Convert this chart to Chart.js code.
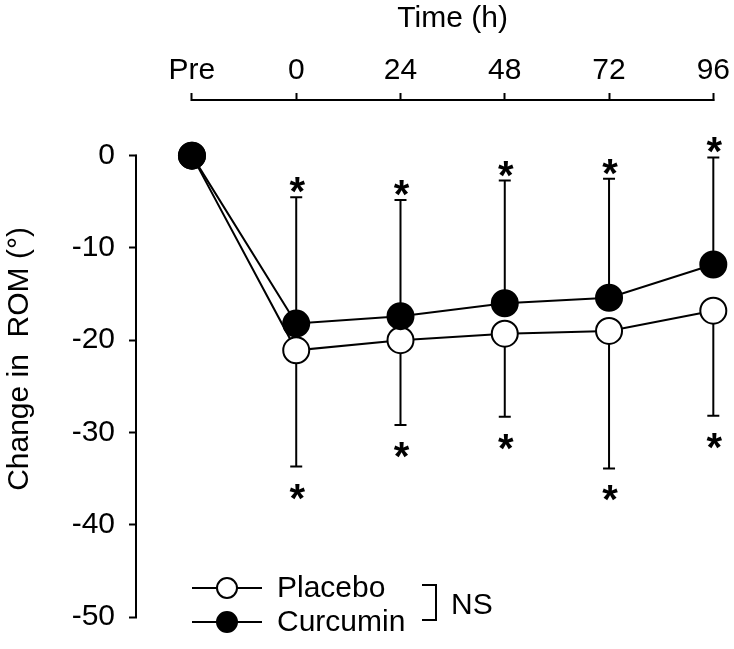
<!DOCTYPE html>
<html>
<head>
<meta charset="utf-8">
<script src="https://cdn.jsdelivr.net/npm/chart.js@4.4.1/dist/chart.umd.min.js"></script>
<style>
    html, body { margin: 0; padding: 0; background: #fff; }
    #wrap { width: 734px; height: 649px; }
</style>
</head>
<body>
<div id="wrap"><canvas id="romChart" width="734" height="649"></canvas></div>
<script>
/* ================= DATA ================= */
const timeLabels = ["Pre", "0", "24", "48", "72", "96"];
const timePos = [0, 1, 2, 3, 4, 5];
const yTicks = [0, -10, -20, -30, -40, -50];

const curcuminMean = [0, -18.2, -17.4, -16.0, -15.4, -11.8];
const curcuminSD = [0, 13.7, 12.6, 13.3, 12.9, 11.6];
const curcuminSig = [false, true, true, true, true, true];

const placeboMean = [0, -21.1, -20.0, -19.3, -19.0, -16.8];
const placeboSD = [0, 12.6, 9.2, 9.0, 14.9, 11.4];
const placeboSig = [false, true, true, true, true, true];

const FONT = "'Liberation Sans', Arial, Helvetica, sans-serif";
const FONT_SIZE = 30;
Chart.defaults.color = "#000";
Chart.defaults.font.family = FONT;

/* ================= HELPERS ================= */
function toPoints(values) {
    return timePos.map((x, i) => ({ x: x, y: values[i] }));
}

// error bars + asterisks, drawn under the markers
const errorBars = {
    id: "errorBars",
    beforeDatasetsDraw(chart) {
        const ctx = chart.ctx;
        const xs = chart.scales.x, ys = chart.scales.y;
        ctx.save();
        ctx.strokeStyle = "#000";
        ctx.lineWidth = 2;
        ctx.fillStyle = "#000";
        ctx.font = "bold 40px " + FONT;
        ctx.textAlign = "center";
        ctx.textBaseline = "alphabetic";

        const draw = (mean, sd, sig, dir, starGap) => {
            mean.forEach((m, i) => {
                if (!sd[i]) return;
                const x = xs.getPixelForValue(timePos[i]);
                const y0 = ys.getPixelForValue(m);
                const y1 = ys.getPixelForValue(m + dir * sd[i]);
                ctx.beginPath();
                ctx.moveTo(x, y0);
                ctx.lineTo(x, y1);
                ctx.moveTo(x - 6, y1);
                ctx.lineTo(x + 6, y1);
                ctx.stroke();
                if (sig[i]) {
                    // asterisk glyph centre sits ~23px above baseline at 40px
                    const cy = dir > 0 ? y1 - starGap : y1 + starGap;
                    ctx.fillText("*", x + 1, cy + 23);
                }
            });
        };
        draw(curcuminMean, curcuminSD, curcuminSig, 1, 15);
        draw(placeboMean, placeboSD, placeboSig, -1, 22);
        ctx.restore();
    }
};

// axis lines (only between first and last tick), top title, legend
const decorations = {
    id: "decorations",
    afterDraw(chart) {
        const ctx = chart.ctx;
        const xs = chart.scales.x, ys = chart.scales.y;
        const xa = xs.getPixelForValue(timePos[0]);
        const xb = xs.getPixelForValue(timePos[timePos.length - 1]);
        const yTop = chart.chartArea.top;
        const xLeft = chart.chartArea.left;

        ctx.save();
        ctx.strokeStyle = "#000";
        ctx.fillStyle = "#000";
        ctx.lineWidth = 2;

        ctx.beginPath();
        ctx.moveTo(xa - 1, yTop - 1);
        ctx.lineTo(xb + 1, yTop - 1);
        ctx.moveTo(xLeft - 1, ys.getPixelForValue(yTicks[0]) - 1);
        ctx.lineTo(xLeft - 1, ys.getPixelForValue(yTicks[yTicks.length - 1]) + 1);
        ctx.stroke();

        ctx.font = FONT_SIZE + "px " + FONT;
        ctx.textAlign = "center";
        ctx.textBaseline = "middle";
        ctx.fillText("Time (h)", (xa + xb) / 2, 19);

        /* ---- legend ---- */
        const rows = [
            { label: "Placebo", y: 588, fill: "#fff" },
            { label: "Curcumin", y: 622, fill: "#000" }
        ];
        rows.forEach(r => {
            ctx.beginPath();
            ctx.moveTo(192, r.y);
            ctx.lineTo(262, r.y);
            ctx.stroke();
            ctx.beginPath();
            ctx.arc(227, r.y, 10, 0, Math.PI * 2);
            ctx.fillStyle = r.fill;
            ctx.fill();
            ctx.stroke();
            ctx.fillStyle = "#000";
            ctx.textAlign = "left";
            ctx.fillText(r.label, 277, r.y + 1);
        });
        ctx.beginPath();
        ctx.moveTo(422, 585);
        ctx.lineTo(436, 585);
        ctx.lineTo(436, 620);
        ctx.lineTo(422, 620);
        ctx.stroke();
        ctx.fillText("NS", 451, 606);
        ctx.restore();
    }
};

/* ================= CHART ================= */
new Chart(document.getElementById("romChart"), {
    type: "line",
    data: {
        datasets: [
            {
                label: "Curcumin",
                data: toPoints(curcuminMean),
                borderColor: "#000",
                borderWidth: 2,
                pointRadius: 13,
                pointBorderWidth: 2,
                pointBackgroundColor: "#000",
                pointBorderColor: "#000",
                clip: false
            },
            {
                label: "Placebo",
                data: toPoints(placeboMean),
                borderColor: "#000",
                borderWidth: 2,
                pointRadius: 13,
                pointBorderWidth: 2,
                pointBackgroundColor: "#fff",
                pointBorderColor: "#000",
                clip: false
            }
        ]
    },
    options: {
        responsive: false,
        animation: false,
        devicePixelRatio: 1,
        layout: { padding: { left: 0, top: 0, right: 20, bottom: 19 } },
        plugins: {
            legend: { display: false },
            tooltip: { enabled: false }
        },
        scales: {
            x: {
                type: "linear",
                position: "top",
                min: -0.527,
                max: 5,
                afterBuildTicks: s => { s.ticks = timePos.map(v => ({ value: v })); },
                afterFit: s => { s.height = 101; },
                border: { display: false },
                grid: {
                    drawOnChartArea: false,
                    drawTicks: true,
                    tickLength: 8,
                    tickWidth: 2,
                    color: "#000"
                },
                ticks: {
                    font: { size: FONT_SIZE },
                    padding: 4,
                    maxRotation: 0,
                    autoSkip: false,
                    callback: (v) => timeLabels[timePos.indexOf(v)]
                }
            },
            y: {
                type: "linear",
                min: -50,
                max: 5.92,
                afterBuildTicks: s => { s.ticks = yTicks.map(v => ({ value: v })); },
                afterFit: s => { s.width = 137; },
                border: { display: false },
                grid: {
                    drawOnChartArea: false,
                    drawTicks: true,
                    tickLength: 8,
                    tickWidth: 2,
                    color: "#000"
                },
                ticks: {
                    font: { size: FONT_SIZE },
                    padding: 14
                },
                title: {
                    display: true,
                    text: "Change in  ROM (°)",
                    font: { size: FONT_SIZE },
                    padding: { top: 2, bottom: 0 }
                }
            }
        }
    },
    plugins: [errorBars, decorations]
});
</script>
</body>
</html>
